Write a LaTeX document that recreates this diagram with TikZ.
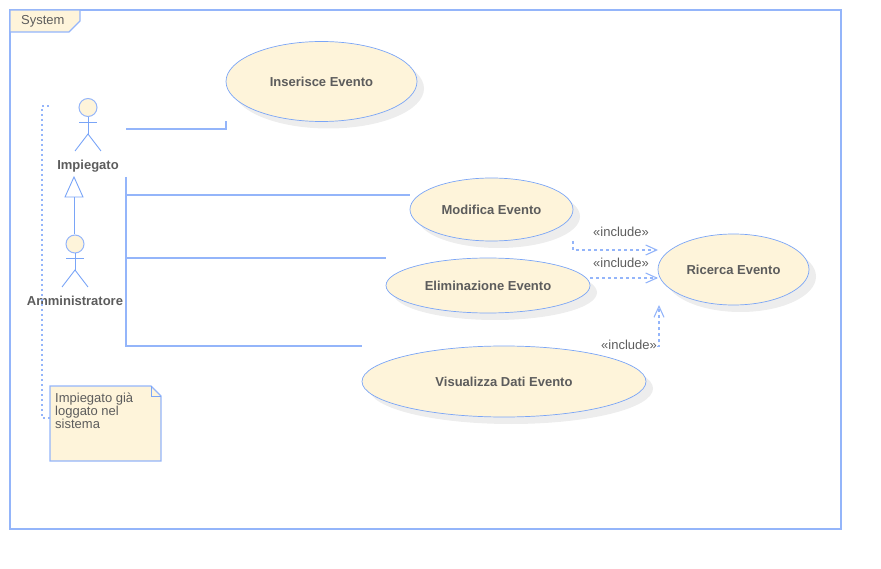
\documentclass[tikz,border=0pt]{standalone}
\usepackage{fontspec}
\setmainfont{Liberation Sans}
\usetikzlibrary{shapes.geometric, arrows.meta, shadows}
\definecolor{umlline}{HTML}{94B5FA}
\definecolor{umlborder}{HTML}{7AA5F7}
\definecolor{umlfill}{HTML}{FEF4DA}
\definecolor{umltext}{HTML}{5C5C5C}
\tikzset{
  usecase/.style={ellipse, draw=umlborder, fill=umlfill, line width=0.7pt, inner sep=0pt, text=umltext,
    font=\fontsize{13}{15}\selectfont\bfseries,
    drop shadow={shadow xshift=7pt, shadow yshift=-7pt, fill=black!7, opacity=1}},
  conn/.style={draw=umlline, line width=1.2pt},
  incl/.style={draw=umlline, line width=1.4pt, dash pattern=on 3pt off 3pt, -{Straight Barb[length=11pt,width=10pt,line width=1.1pt]}},
  anchorline/.style={draw=umlline, line width=1.5pt, dash pattern=on 2pt off 3pt},
  limb/.style={draw=umlborder, line width=0.9pt},
  head/.style={circle, draw=umlline, fill=umlfill, line width=1pt, inner sep=0pt, minimum size=18pt},
  actorlabel/.style={text=umltext, inner sep=0pt, font=\fontsize{13}{15}\selectfont\bfseries},
  stereo/.style={text=umltext, inner sep=0pt, font=\fontsize{13}{15}\selectfont}
}
\begin{document}
\begin{tikzpicture}[x=1pt,y=-1pt]
\useasboundingbox (0,0) rectangle (881,569);
% frame of the system
\coordinate (frameTL) at (10,10);
\coordinate (frameBR) at (841,529);
\draw[conn] (frameTL) rectangle (frameBR);
\draw[conn, fill=umlfill] (10,10) -- (80,10) -- (80,21) -- (69,32) -- (10,32) -- cycle;
\node[stereo, anchor=west] (sysname) at (21,21) {System};

% use cases
\node[usecase, minimum width=191pt, minimum height=80pt] (inserisce) at (321.5,81.5) {\raisebox{-1pt}{Inserisce Evento}};
\node[usecase, minimum width=163pt, minimum height=63pt] (modifica) at (491.5,209.5) {\raisebox{-1pt}{Modifica Evento}};
\node[usecase, minimum width=204pt, minimum height=55pt] (elimina) at (488,285.5) {\raisebox{-1pt}{Eliminazione Evento}};
\node[usecase, minimum width=284pt, minimum height=71pt] (visualizza) at (504,381.5) {\raisebox{-1pt}{Visualizza Dati Evento}};
\node[usecase, minimum width=151pt, minimum height=71pt] (ricerca) at (733.5,269.5) {\raisebox{-1pt}{Ricerca Evento}};

% actors
\node[head] (impHead) at (88,107.5) {};
\coordinate (impHip) at (88,134);
\draw[limb] (impHead) -- (impHip);
\draw[limb] (79,122.5) -- (97,122.5);
\draw[limb] (75,151) -- (impHip) -- (101,151);
\node[actorlabel] (impiegato) at (88,166) {Impiegato};

\node[head] (ammHead) at (75,244) {};
\coordinate (ammHip) at (75,270);
\draw[limb] (ammHead) -- (ammHip);
\draw[limb] (66,258.5) -- (84,258.5);
\draw[limb] (62,287) -- (ammHip) -- (88,287);
\node[actorlabel] (amministratore) at (75,301) {Amministratore};

% generalization
\coordinate (genTip) at (74,177);
\coordinate (genBase) at (74,197);
\draw[limb] (ammHead.north -| genBase) -- (genBase);
\draw[limb] (genTip) -- (65,197) -- (83,197) -- cycle;

% associations
\coordinate (impOut) at (126,129);
\coordinate (insIn) at (226,121);
\draw[conn] (impOut) -| (insIn);
\coordinate (ammTop) at (126,177);
\coordinate (modIn) at (410,195);
\coordinate (eliIn) at (386,258);
\coordinate (visIn) at (362,346);
\draw[conn] (ammTop) |- (visIn);
\draw[conn] (ammTop |- modIn) -- (modIn);
\draw[conn] (ammTop |- eliIn) -- (eliIn);

% include
\coordinate (modOut) at (573,241);
\coordinate (eliOut) at (590,278);
\coordinate (visOut) at (657,346.5);
\coordinate (ricA) at (658,250);
\coordinate (ricB) at (658,278);
\coordinate (ricC) at (659,305);
\draw[incl] (modOut) |- (ricA);
\draw[incl] (eliOut) -- (ricB);
\draw[incl] (visOut) -| (ricC);
\node[stereo] (inclA) at (621,232) {«include»};
\node[stereo] (inclB) at (621,263) {«include»};
\node[stereo] (inclC) at (629,345) {«include»};

% note
\coordinate (noteTL) at (50,386);
\draw[conn, fill=umlfill] (noteTL) -- (151,386) -- (161,396) -- (161,461) -- (50,461) -- cycle;
\draw[limb] (151,386) -- (151,396) -- (161,396);
\node[stereo, anchor=north west, align=left, font=\fontsize{13}{13}\selectfont] (notetext) at (55,393) {Impiegato già\\loggato nel\\sistema};
\coordinate (noteOut) at (49,106);
\draw[anchorline] (noteOut) -- (42,106) -- (42,418) -- (noteTL |- 0,418);
\end{tikzpicture}
\end{document}
